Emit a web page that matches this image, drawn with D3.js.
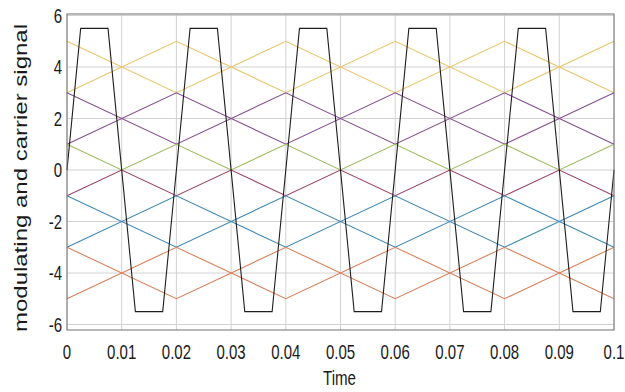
<!DOCTYPE html>
<html>
<head>
<meta charset="utf-8">
<script src="https://cdn.jsdelivr.net/npm/d3@7"></script>
<style>
  body { margin: 0; background: #fff; }
  text { font-family: "Liberation Sans", Arial, sans-serif; fill: #1a1a1a; }
</style>
</head>
<body>
<div id="chart"></div>
<script>
// tick values / labels
var xTicks = [0, 0.01, 0.02, 0.03, 0.04, 0.05, 0.06, 0.07, 0.08, 0.09, 0.1];
var xTickLabels = ['0', '0.01', '0.02', '0.03', '0.04', '0.05', '0.06', '0.07', '0.08', '0.09', '0.1'];
var yTicks = [-6, -4, -2, 0, 2, 4, 6];
var yTickLabels = ['-6', '-4', '-2', '0', '2', '4', '6'];

// carrier vertices (wide triangles, every 0.02 s)
var carrierTime = [0, 0.02, 0.04, 0.06, 0.08, 0.1];
var yellowA = [5, 3, 5, 3, 5, 3];
var yellowB = [3, 5, 3, 5, 3, 5];
var purpleA = [3, 1, 3, 1, 3, 1];
var purpleB = [1, 3, 1, 3, 1, 3];
var blueA = [-1, -3, -1, -3, -1, -3];
var blueB = [-3, -1, -3, -1, -3, -1];
var orangeA = [-3, -5, -3, -5, -3, -5];
var orangeB = [-5, -3, -5, -3, -5, -3];

// narrow carriers around zero (every 0.01 s)
var halfTime = [0, 0.01, 0.02, 0.03, 0.04, 0.05, 0.06, 0.07, 0.08, 0.09, 0.1];
var greenC = [1, 0, 1, 0, 1, 0, 1, 0, 1, 0, 1];
var redC = [-1, 0, -1, 0, -1, 0, -1, 0, -1, 0, -1];

// modulating signal (clipped)
var signalTime = [0, 0.0025, 0.0075, 0.0125, 0.0175, 0.0225, 0.0275, 0.0325, 0.0375, 0.0425, 0.0475,
  0.0525, 0.0575, 0.0625, 0.0675, 0.0725, 0.0775, 0.0825, 0.0875, 0.0925, 0.0975, 0.1];
var signalValue = [0, 5.5, 5.5, -5.5, -5.5, 5.5, 5.5, -5.5, -5.5, 5.5, 5.5,
  -5.5, -5.5, 5.5, 5.5, -5.5, -5.5, 5.5, 5.5, -5.5, -5.5, 0];

var svg = d3.select("#chart")
      .append("svg")
      .attr('width', 625)
      .attr('height', 392);

var boxLeft = 67, boxRight = 614, boxTop = 14, boxBottom = 330;

var x = d3.scaleLinear().domain([0, 0.1]).range([boxLeft, boxRight]);
var y = d3.scaleLinear().domain([-6, 6]).range([324.5, 15.5]);

// grid
var grid = svg.append("g").attr('class', 'grid');
grid.selectAll("line.gx")
    .data(xTicks)
    .enter()
    .append("line")
    .attr('class', 'gx')
    .attr("x1", function(d){ return x(d); })
    .attr("x2", function(d){ return x(d); })
    .attr("y1", boxTop)
    .attr("y2", boxBottom)
    .attr("stroke", "#d2d2d2")
    .attr("stroke-width", 1);
grid.selectAll("line.gy")
    .data(yTicks)
    .enter()
    .append("line")
    .attr('class', 'gy')
    .attr("x1", boxLeft)
    .attr("x2", boxRight)
    .attr("y1", function(d){ return y(d); })
    .attr("y2", function(d){ return y(d); })
    .attr("stroke", "#d2d2d2")
    .attr("stroke-width", 1);

// series
var line = d3.line()
      .x(function(d){ return x(d[0]); })
      .y(function(d){ return y(d[1]); });

function drawSeries(times, values, color){
  svg.append("path")
      .datum(d3.zip(times, values))
      .attr("d", line)
      .attr("fill", "none")
      .attr("stroke", color)
      .attr("stroke-width", 1.1);
}

drawSeries(carrierTime, yellowA, "#e9c46a");
drawSeries(carrierTime, yellowB, "#e9c46a");
drawSeries(carrierTime, purpleA, "#85508f");
drawSeries(carrierTime, purpleB, "#85508f");
drawSeries(halfTime, greenC, "#9dbb5f");
drawSeries(halfTime, redC, "#9a4467");
drawSeries(carrierTime, blueA, "#3f88b5");
drawSeries(carrierTime, blueB, "#3f88b5");
drawSeries(carrierTime, orangeA, "#d9805a");
drawSeries(carrierTime, orangeB, "#d9805a");
drawSeries(signalTime, signalValue, "#1e1e1e");

// box
svg.append("rect")
    .attr("x", boxLeft)
    .attr("y", boxTop)
    .attr("width", boxRight - boxLeft)
    .attr("height", boxBottom - boxTop)
    .attr("fill", "none")
    .attr("stroke", "#707070")
    .attr("stroke-width", 1);

// tick labels
svg.selectAll("text.xLabel")
    .data(xTicks)
    .enter()
    .append("text")
    .attr('class', 'xLabel')
    .attr('transform', function(d){ return "translate(" + x(d) + ",359) scale(0.75,1)"; })
    .attr('text-anchor', 'middle')
    .attr('font-size', 20)
    .text(function(d, i){ return xTickLabels[i]; });

svg.selectAll("text.yLabel")
    .data(yTicks)
    .enter()
    .append("text")
    .attr('class', 'yLabel')
    .attr('transform', function(d){ return "translate(62," + (y(d) + 7) + ") scale(0.75,1)"; })
    .attr('text-anchor', 'end')
    .attr('font-size', 20)
    .text(function(d, i){ return yTickLabels[i]; });

svg.append("text")
    .attr('transform', "translate(339.5,385) scale(0.72,1)")
    .attr('text-anchor', 'middle')
    .attr('font-size', 21)
    .text("Time");

svg.append("text")
    .attr('transform', "translate(27,178) scale(0.75,1) rotate(-90)")
    .attr('text-anchor', 'middle')
    .attr('font-size', 24)
    .text("modulating and carrier signal");
</script>
</body>
</html>
